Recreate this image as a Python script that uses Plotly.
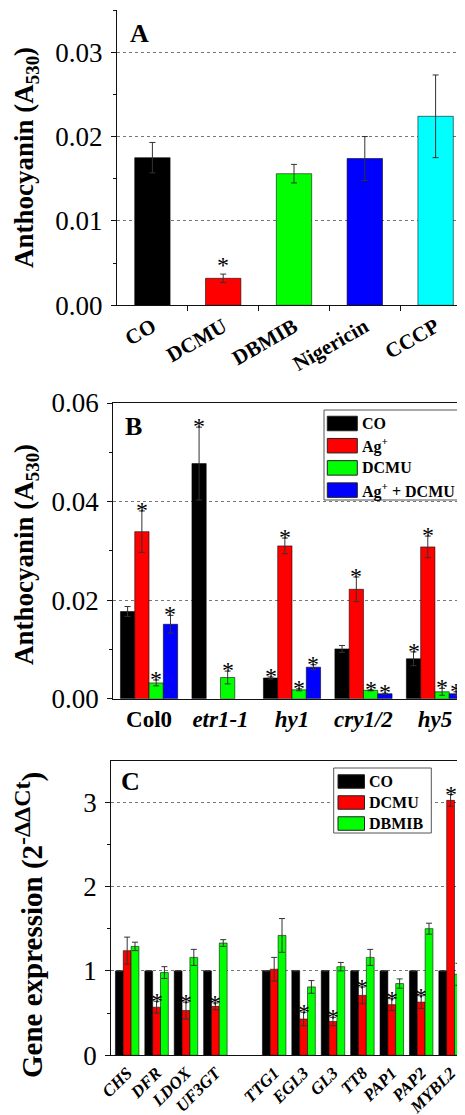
import plotly.graph_objects as go

W, H = 465, 1115
FONT = "Liberation Serif"

# ---------------- Data ----------------
# Panel A
a_categories = ["CO", "DCMU", "DBMIB", "Nigericin", "CCCP"]
a_values = [0.0175, 0.0032, 0.0156, 0.0174, 0.0224]
a_errors = [0.0018, 0.0005, 0.0011, 0.0026, 0.0049]
a_colors = ["#000000", "#ff0000", "#00ff00", "#0000ff", "#00ffff"]
a_stars = [False, True, False, False, False]

# Panel B
b_genotypes = ["Col0", "<i>etr1-1</i>", "<i>hy1</i>", "<i>cry1/2</i>", "<i>hy5</i>"]
b_series = ["CO", "Ag<sup>+</sup>", "DCMU", "Ag<sup>+</sup> + DCMU"]
b_colors = ["#000000", "#ff0000", "#00ff00", "#0000ff"]
b_co = [0.0177, 0.0477, 0.0042, 0.0101, 0.0081]
b_co_err = [0.0010, 0.0074, 0.0002, 0.0007, 0.0014]
b_co_star = [False, True, True, False, True]
b_ag = [0.0339, None, 0.0310, 0.0222, 0.0308]
b_ag_err = [0.0042, None, 0.0016, 0.0025, 0.0022]
b_ag_star = [True, False, True, True, True]
b_dcmu = [0.0032, 0.0043, 0.0018, 0.0017, 0.0014]
b_dcmu_err = [0.0006, 0.0013, 0.0002, 0.0001, 0.0007]
b_dcmu_star = [True, True, True, True, True]
b_agdcmu = [0.0151, None, 0.0064, 0.0010, 0.0010]
b_agdcmu_err = [0.0018, None, 0.0005, 0.0001, 0.0004]
b_agdcmu_star = [True, False, True, True, True]

# Panel C
c_gene_groups = [["CHS", "DFR", "LDOX", "UF3GT"],
                 ["TTG1", "EGL3", "GL3", "TT8", "PAP1", "PAP2", "MYBL2"]]
c_series = ["CO", "DCMU", "DBMIB"]
c_colors = ["#000000", "#ff0000", "#00ff00"]
c_co = [1.0, 1.0, 1.0, 1.0, 1.0, 1.0, 1.0, 1.0, 1.0, 1.0, 1.0]
c_co_err = [None] * 11
c_co_star = [False] * 11
c_dcmu = [1.24, 0.57, 0.53, 0.58, 1.02, 0.43, 0.40, 0.71, 0.60, 0.63, 3.02]
c_dcmu_err = [0.16, 0.07, 0.10, 0.04, 0.14, 0.08, 0.05, 0.10, 0.07, 0.075, 0.07]
c_dcmu_star = [False, True, True, True, False, True, True, True, True, True, True]
c_dbmib = [1.29, 0.98, 1.16, 1.33, 1.42, 0.81, 1.05, 1.16, 0.85, 1.50, 0.96]
c_dbmib_err = [0.05, 0.07, 0.095, 0.04, 0.20, 0.075, 0.05, 0.095, 0.055, 0.065, 0.13]
c_dbmib_star = [False] * 11


# ---------------- Helpers ----------------
def px(x):
    return x / W


def py(y):
    return 1 - y / H


BARGAP = 0.2
ERR = dict(type="data", visible=True, color="#333333", thickness=1, width=3)
OUTLINE = dict(color="rgba(0,0,0,0.55)", width=1)
STAR_FONT = dict(family=FONT, size=24, color="black")

fig = go.Figure()
annotations = []
shapes = []

# ---------------- Panel A ----------------
a_x = list(range(len(a_categories)))
fig.add_trace(go.Bar(
    x=a_x, y=a_values, width=0.5,
    marker=dict(color=a_colors, line=OUTLINE),
    error_y=dict(array=a_errors, **ERR),
    xaxis="x", yaxis="y", showlegend=False,
))
for xi, v, e, s in zip(a_x, a_values, a_errors, a_stars):
    if s:
        annotations.append(dict(x=xi, y=v + e, xref="x", yref="y", text="*",
                                showarrow=False, yanchor="middle", yshift=9,
                                font=STAR_FONT))

# ---------------- Panel B ----------------
b_x = list(range(len(b_genotypes)))
b_vals = [b_co, b_ag, b_dcmu, b_agdcmu]
b_errs = [b_co_err, b_ag_err, b_dcmu_err, b_agdcmu_err]
b_stars = [b_co_star, b_ag_star, b_dcmu_star, b_agdcmu_star]
nb = len(b_series)
bw = (1 - BARGAP) / nb
for i in range(nb):
    fig.add_trace(go.Bar(
        x=b_x, y=b_vals[i], name=b_series[i],
        marker=dict(color=b_colors[i], line=OUTLINE),
        error_y=dict(array=b_errs[i], **ERR),
        xaxis="x2", yaxis="y2", showlegend=False,
    ))
    off = (i - (nb - 1) / 2) * bw
    for xi, v, e, s in zip(b_x, b_vals[i], b_errs[i], b_stars[i]):
        if s and v is not None:
            annotations.append(dict(x=xi + off, y=v + (e or 0), xref="x2", yref="y2",
                                    text="*", showarrow=False, yanchor="middle", yshift=1,
                                    font=STAR_FONT))

# ---------------- Panel C ----------------
c_genes = []
c_x = []
pos = 0
for gi, grp in enumerate(c_gene_groups):
    if gi > 0:
        pos += 1  # empty slot between groups
    for g in grp:
        c_genes.append(g)
        c_x.append(pos)
        pos += 1
c_vals = [c_co, c_dcmu, c_dbmib]
c_errs = [c_co_err, c_dcmu_err, c_dbmib_err]
c_stars = [c_co_star, c_dcmu_star, c_dbmib_star]
nc = len(c_series)
cw = (1 - BARGAP) / nc
for i in range(nc):
    fig.add_trace(go.Bar(
        x=c_x, y=c_vals[i], name=c_series[i],
        marker=dict(color=c_colors[i], line=OUTLINE),
        error_y=dict(array=c_errs[i], **ERR),
        xaxis="x3", yaxis="y3", showlegend=False,
    ))
    off = (i - (nc - 1) / 2) * cw
    for xi, v, e, s in zip(c_x, c_vals[i], c_errs[i], c_stars[i]):
        if s:
            annotations.append(dict(x=xi + off, y=v + (e or 0), xref="x3", yref="y3",
                                    text="*", showarrow=False, yanchor="middle", yshift=0,
                                    font=STAR_FONT))

# ---------------- Axes ----------------
line_kw = dict(showline=True, linecolor="#111", linewidth=1.2, automargin=False)
ytick_font = dict(family=FONT, size=27, color="black")
grid_kw = dict(showgrid=True, gridcolor="#777", gridwidth=1, griddash="dot", zeroline=False)

layout = dict(
    width=W, height=H,
    margin=dict(l=0, r=0, t=0, b=0),
    paper_bgcolor="white", plot_bgcolor="white",
    barmode="group", bargap=BARGAP, bargroupgap=0,
    showlegend=False,
    font=dict(family=FONT, color="black"),
)

# A axes
layout["xaxis"] = dict(
    domain=[px(109), px(463)], anchor="y", range=[-0.5, 4.5],
    tickmode="array", tickvals=a_x, ticktext=a_categories, tickangle=-30,
    ticks="", tickfont=dict(family=FONT, size=21, color="black", weight="bold"),
    minor=dict(tickmode="array", tickvals=[x + 0.5 for x in a_x[:-1]], ticks="outside",
               ticklen=5, tickcolor="#111", showgrid=False),
    showgrid=False, zeroline=False, mirror=False, **line_kw,
)
layout["yaxis"] = dict(
    domain=[py(297.3), py(2)], anchor="x", range=[0, 0.035],
    tickmode="linear", tick0=0, dtick=0.01, tickformat=".2f",
    ticks="outside", ticklen=5, tickcolor="#111", tickfont=ytick_font, ticklabelstandoff=3,
    minor=dict(dtick=0.005, ticks="outside", ticklen=3, tickcolor="#111", showgrid=False),
    mirror=True, **grid_kw, **line_kw,
)

# B axes
layout["xaxis2"] = dict(
    domain=[px(105.3), px(462.7)], anchor="y2", range=[-0.5, 4.5],
    tickmode="array", tickvals=b_x, ticktext=b_genotypes, tickangle=0,
    ticks="", tickfont=dict(family=FONT, size=23, color="black", weight="bold"),
    showgrid=False, zeroline=False, mirror=True, **line_kw,
)
layout["yaxis2"] = dict(
    domain=[py(690.7), py(395)], anchor="x2", range=[0, 0.06],
    tickmode="linear", tick0=0, dtick=0.02, tickformat=".2f",
    ticks="outside", ticklen=5, tickcolor="#111", tickfont=ytick_font, ticklabelstandoff=3,
    minor=dict(dtick=0.01, ticks="outside", ticklen=3, tickcolor="#111", showgrid=False),
    mirror=True, **grid_kw, **line_kw,
)

# C axes
layout["xaxis3"] = dict(
    domain=[px(103.3), px(461.7)], anchor="y3", range=[-0.54, 11.65],
    tickmode="array", tickvals=c_x, ticktext=["<i>" + g + "</i>" for g in c_genes],
    tickangle=-45, ticks="",
    tickfont=dict(family=FONT, size=17, color="black", weight="bold"),
    showgrid=False, zeroline=False, mirror=True, **line_kw,
)
layout["yaxis3"] = dict(
    domain=[py(1047.3), py(752.7)], anchor="x3", range=[0, 3.49],
    tickmode="linear", tick0=0, dtick=1,
    ticks="outside", ticklen=5, tickcolor="#111", tickfont=ytick_font, ticklabelstandoff=3,
    minor=dict(dtick=0.5, ticks="outside", ticklen=3, tickcolor="#111", showgrid=False),
    mirror=True, **grid_kw, **line_kw,
)

# ---------------- Titles & panel letters ----------------
title_font = dict(family=FONT, size=27, color="black")
annotations += [
    dict(text="<b>Anthocyanin (A<sub>530</sub>)</b>", x=px(18), y=py(150), xref="paper",
         yref="paper", showarrow=False, textangle=-90, xanchor="center", yanchor="middle",
         font=title_font),
    dict(text="<b>Anthocyanin (A<sub>530</sub>)</b>", x=px(18), y=py(547), xref="paper",
         yref="paper", showarrow=False, textangle=-90, xanchor="center", yanchor="middle",
         font=title_font),
    dict(text="<b>Gene expression (2<sup><span style='font-size:24px'>-ΔΔCt</span></sup>)</b>",
         x=px(21), y=py(917), xref="paper",
         yref="paper", showarrow=False, textangle=-90, xanchor="center", yanchor="middle",
         font=dict(family=FONT, size=29, color="black")),
]
letter_font = dict(family=FONT, size=26, color="black", weight="bold")
for letter, lx, ly in [("A", 120, 9), ("B", 115, 402), ("C", 111, 757)]:
    annotations.append(dict(text=letter, x=px(lx), y=py(ly), xref="paper", yref="paper",
                            showarrow=False, xanchor="left", yanchor="top", font=letter_font))

# ---------------- Custom legends ----------------
leg_font = dict(family=FONT, size=16, color="black", weight="bold")


def add_legend(names, colors, box, sw_x0, sw_w, sw_h, row0, row_step, text_x):
    x0, y0, x1, y1 = box
    shapes.append(dict(type="rect", xref="paper", yref="paper", x0=px(x0), x1=px(x1),
                       y0=py(y1), y1=py(y0), line=dict(color="#555", width=1),
                       fillcolor="white", layer="above"))
    for k, (nm, col) in enumerate(zip(names, colors)):
        cy = row0 + k * row_step
        shapes.append(dict(type="rect", xref="paper", yref="paper",
                           x0=px(sw_x0), x1=px(sw_x0 + sw_w),
                           y0=py(cy + sw_h / 2), y1=py(cy - sw_h / 2),
                           line=dict(color="#222", width=1), fillcolor=col, layer="above"))
        annotations.append(dict(text=nm, x=px(text_x), y=py(cy), xref="paper", yref="paper",
                                showarrow=False, xanchor="left", yanchor="middle",
                                font=leg_font))


add_legend(b_series, b_colors, (316, 402, 461.7, 492), 319.3, 30, 14.5, 415.5, 22.2, 352)
add_legend(c_series, c_colors, (325.7, 760, 423.3, 825), 330, 26.5, 13.5, 773.5, 21, 358.5)

layout["annotations"] = annotations
layout["shapes"] = shapes
fig.update_layout(**layout)
fig.write_html("out.html")
